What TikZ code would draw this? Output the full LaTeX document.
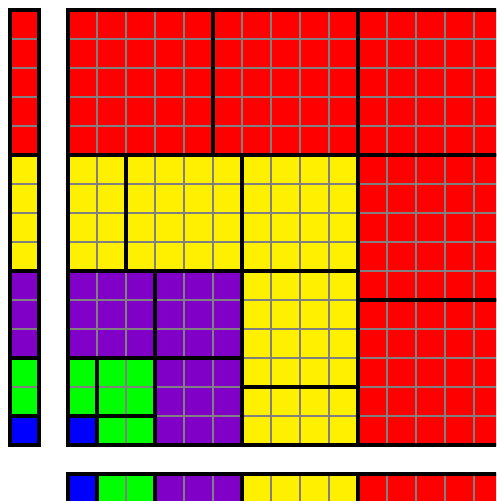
\documentclass[tikz,border=0pt]{standalone}
\definecolor{cred}{RGB}{255,0,0}
\definecolor{cyel}{RGB}{255,240,0}
\definecolor{cpur}{RGB}{128,0,200}
\definecolor{cgrn}{RGB}{0,255,0}
\definecolor{cblu}{RGB}{0,0,255}
\tikzset{
  gridline/.style={draw={rgb,255:red,128;green,128;blue,128}, line width=1.2pt},
  blockborder/.style={draw=black, line width=4pt, line join=miter},
}
% #1 x0, #2 y0 (row top), #3 x1, #4 y1, #5 colour
\newcommand\myblock[5]{%
  \fill[#5] (#1,#2) rectangle (#3,#4);
  \foreach \i in {#1,...,#3} \draw[gridline] (\i,#2) -- (\i,#4);
  \foreach \j in {#2,...,#4} \draw[gridline] (#1,\j) -- (#3,\j);
}
\newcommand\myborder[4]{\draw[blockborder] (#1,#2) rectangle (#3,#4);}
\begin{document}
\begin{tikzpicture}[x=29pt,y=-29pt]
\useasboundingbox (-2.3448,-0.3448) rectangle (14.7586,16.931);
\clip (-2.3448,-0.3448) rectangle (14.7586,16.931);
% main square fills
\myblock{0}{0}{5}{5}{cred}
\myblock{5}{0}{10}{5}{cred}
\myblock{10}{0}{15}{5}{cred}
\myblock{10}{5}{15}{10}{cred}
\myblock{10}{10}{15}{15}{cred}
\myblock{0}{5}{2}{9}{cyel}
\myblock{2}{5}{6}{9}{cyel}
\myblock{6}{5}{10}{9}{cyel}
\myblock{6}{9}{10}{13}{cyel}
\myblock{6}{13}{10}{15}{cyel}
\myblock{0}{9}{3}{12}{cpur}
\myblock{3}{9}{6}{12}{cpur}
\myblock{3}{12}{6}{15}{cpur}
\myblock{0}{12}{1}{14}{cgrn}
\myblock{1}{12}{3}{14}{cgrn}
\myblock{1}{14}{3}{15}{cgrn}
\myblock{0}{14}{1}{15}{cblu}
% left column
\myblock{-2}{0}{-1}{5}{cred}
\myblock{-2}{5}{-1}{9}{cyel}
\myblock{-2}{9}{-1}{12}{cpur}
\myblock{-2}{12}{-1}{14}{cgrn}
\myblock{-2}{14}{-1}{15}{cblu}
% bottom strip
\myblock{0}{16}{1}{17}{cblu}
\myblock{1}{16}{3}{17}{cgrn}
\myblock{3}{16}{6}{17}{cpur}
\myblock{6}{16}{10}{17}{cyel}
\myblock{10}{16}{15}{17}{cred}
% borders
\myborder{0}{0}{5}{5}
\myborder{5}{0}{10}{5}
\myborder{10}{0}{15}{5}
\myborder{10}{5}{15}{10}
\myborder{10}{10}{15}{15}
\myborder{0}{5}{2}{9}
\myborder{2}{5}{6}{9}
\myborder{6}{5}{10}{9}
\myborder{6}{9}{10}{13}
\myborder{6}{13}{10}{15}
\myborder{0}{9}{3}{12}
\myborder{3}{9}{6}{12}
\myborder{3}{12}{6}{15}
\myborder{0}{12}{1}{14}
\myborder{1}{12}{3}{14}
\myborder{1}{14}{3}{15}
\myborder{0}{14}{1}{15}
\myborder{-2}{0}{-1}{5}
\myborder{-2}{5}{-1}{9}
\myborder{-2}{9}{-1}{12}
\myborder{-2}{12}{-1}{14}
\myborder{-2}{14}{-1}{15}
\myborder{0}{16}{1}{17}
\myborder{1}{16}{3}{17}
\myborder{3}{16}{6}{17}
\myborder{6}{16}{10}{17}
\myborder{10}{16}{15}{17}
\end{tikzpicture}
\end{document}
